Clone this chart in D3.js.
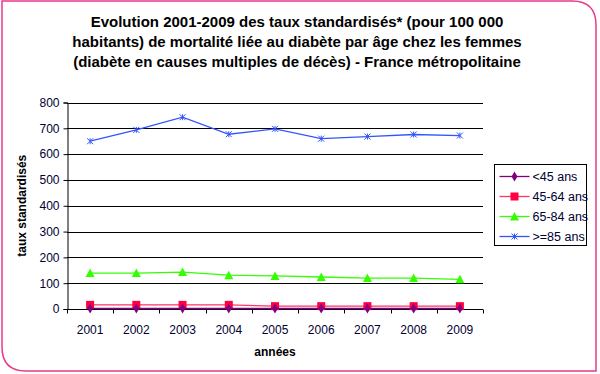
<!DOCTYPE html>
<html>
<head>
<meta charset="utf-8">
<script src="https://cdn.jsdelivr.net/npm/d3@7"></script>
<style>
  body { margin: 0; background: #fff; }
  text { font-family: "Liberation Sans", Arial, sans-serif; }
</style>
</head>
<body>
<div id="chart"></div>
<script>
// data
const years = ["2001", "2002", "2003", "2004", "2005", "2006", "2007", "2008", "2009"];
const under45 = [2, 2, 2, 2, 2, 2, 2, 2, 2];
const age45to64 = [16, 16, 16, 16, 11, 11, 11, 11, 11];
const age65to84 = [139, 139, 143, 131, 128, 124, 120, 120, 115];
const over85 = [650, 694, 743, 677, 698, 660, 668, 676, 672];
const yTicks = [0, 100, 200, 300, 400, 500, 600, 700, 800];

const series = [
  { name: "<45 ans", values: under45, color: "#800080", line: "#800080", shape: "diamond" },
  { name: "45-64 ans", values: age45to64, color: "#ff0040", line: "#ff3366", shape: "square" },
  { name: "65-84 ans", values: age65to84, color: "#33ff00", line: "#33ff00", shape: "triangle" },
  { name: ">=85 ans", values: over85, color: "#3355ff", line: "#3355ff", shape: "star" }
];

const width = 600, height = 374;
const margin = { top: 102.5, left: 67, right: 117, bottom: 65 };

const svg = d3.select("#chart").append("svg")
  .attr("width", width)
  .attr("height", height);

// pink frame, rounded top-right and bottom-left
const r = 24;
svg.append("path")
  .attr("d", `M2,1 H${596 - r} Q596,1 596,${1 + r} V371 H${2 + r} Q2,371 2,${371 - r} Z`)
  .attr("fill", "#fff")
  .attr("stroke", "#e8388a")
  .attr("stroke-width", 1.5);

// title
const title = [
  "Evolution 2001-2009 des taux standardisés* (pour 100 000",
  "habitants) de mortalité liée au diabète par âge chez les femmes",
  "(diabète en causes multiples de décès) - France métropolitaine"
];
svg.append("text")
  .attr("x", 297)
  .attr("y", 27)
  .attr("text-anchor", "middle")
  .attr("font-size", 15)
  .attr("font-weight", "bold")
  .attr("fill", "#000")
  .selectAll("tspan")
  .data(title)
  .enter().append("tspan")
  .attr("x", 297)
  .attr("dy", (d, i) => i === 0 ? 0 : 20)
  .text(d => d);

const x = d3.scaleBand()
  .domain(years)
  .range([margin.left, width - margin.right]);

const y = d3.scaleLinear()
  .domain([0, 800])
  .range([height - margin.bottom, margin.top]);

// grid lines
svg.append("g")
  .selectAll("line")
  .data(yTicks.slice(1))
  .enter().append("line")
  .attr("x1", margin.left)
  .attr("x2", width - margin.right)
  .attr("y1", d => Math.round(y(d)) + 0.5)
  .attr("y2", d => Math.round(y(d)) + 0.5)
  .attr("stroke", "#000")
  .attr("stroke-width", 1);

// y axis
const yAxis = svg.append("g")
  .attr("transform", `translate(${margin.left + 0.5},0)`)
  .call(d3.axisLeft(y).tickValues(yTicks).tickSize(4).tickPadding(4));
yAxis.selectAll("text").attr("font-size", 12).attr("fill", "#000033").style("font-family", "Liberation Sans, Arial, sans-serif");
yAxis.selectAll("line, path").attr("stroke", "#000");

// x axis: ticks between the categories
const xAxis = svg.append("g")
  .attr("transform", `translate(0,${Math.round(y(0)) + 0.5})`);
xAxis.append("line")
  .attr("x1", margin.left).attr("x2", width - margin.right)
  .attr("stroke", "#000");
xAxis.selectAll(".tk")
  .data(years.concat(["end"]))
  .enter().append("line")
  .attr("class", "tk")
  .attr("x1", (d, i) => Math.round(margin.left + i * x.step()) + 0.5)
  .attr("x2", (d, i) => Math.round(margin.left + i * x.step()) + 0.5)
  .attr("y1", 0).attr("y2", 4)
  .attr("stroke", "#000");
xAxis.selectAll("text")
  .data(years)
  .enter().append("text")
  .attr("x", d => x(d) + x.bandwidth() / 2)
  .attr("y", 24)
  .attr("text-anchor", "middle")
  .attr("font-size", 12)
  .attr("fill", "#000033")
  .text(d => d);

// axis titles
svg.append("text")
  .attr("x", 275)
  .attr("y", 356)
  .attr("text-anchor", "middle")
  .attr("font-size", 12)
  .attr("font-weight", "bold")
  .text("années");

svg.append("text")
  .attr("transform", `translate(26,${(margin.top + height - margin.bottom) / 2}) rotate(-90)`)
  .attr("text-anchor", "middle")
  .attr("font-size", 12)
  .attr("font-weight", "bold")
  .text("taux standardisés");

function marker(g, shape, color) {
  if (shape === "diamond") {
    g.append("path").attr("d", d3.symbol(d3.symbolDiamond, 30)()).attr("fill", color);
  } else if (shape === "square") {
    g.append("rect").attr("x", -4).attr("y", -4).attr("width", 8).attr("height", 8).attr("fill", color);
  } else if (shape === "triangle") {
    g.append("path").attr("d", "M0,-4.5 L4.5,4 L-4.5,4 Z").attr("fill", color);
  } else {
    g.append("path").attr("d", "M-3,-3 L3,3 M-3,3 L3,-3 M0,-3 L0,3")
      .attr("stroke", color).attr("stroke-width", 1).attr("fill", "none");
  }
}

const line = d3.line()
  .x((d, i) => x(years[i]) + x.bandwidth() / 2)
  .y(d => y(d));

// draw series, small values last so they sit on top
series.slice().reverse().forEach(s => {
  svg.append("path")
    .datum(s.values)
    .attr("d", line)
    .attr("fill", "none")
    .attr("stroke", s.line)
    .attr("stroke-width", 1.3);
  s.values.forEach((v, i) => {
    const g = svg.append("g")
      .attr("transform", `translate(${x(years[i]) + x.bandwidth() / 2},${y(v)})`);
    marker(g, s.shape, s.color);
  });
});

// legend
const legend = svg.append("g").attr("transform", "translate(494.5,164.5)");
legend.append("rect")
  .attr("width", 92).attr("height", 81)
  .attr("fill", "#fff").attr("stroke", "#000").attr("stroke-width", 1);
series.forEach((s, i) => {
  const row = legend.append("g").attr("transform", `translate(0,${12 + i * 20})`);
  row.append("line")
    .attr("x1", 5).attr("x2", 35)
    .attr("stroke", s.line).attr("stroke-width", 1.3);
  marker(row.append("g").attr("transform", "translate(20,0)"), s.shape, s.color);
  row.append("text")
    .attr("x", 38).attr("y", 4.5)
    .attr("font-size", 12.5)
    .attr("fill", "#000033")
    .text(s.name);
});
</script>
</body>
</html>
